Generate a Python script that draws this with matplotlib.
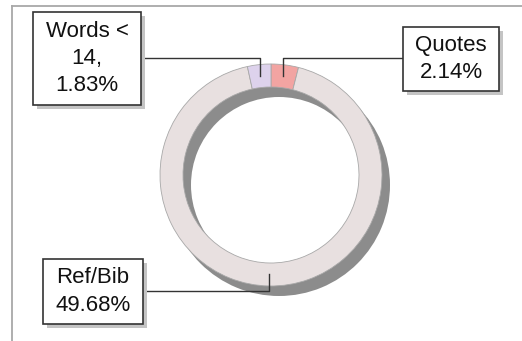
import numpy as np
import matplotlib
matplotlib.use("Agg")
import matplotlib.pyplot as plt

plt.rcParams['font.family'] = ['Liberation Sans', 'DejaVu Sans']

# slice data (clockwise from the top)
labels = ["Quotes", "Ref/Bib", "Words < 14"]
values = [2.14, 49.68, 1.83]
colors = ["#f2a4a2", "#e8e0e0", "#ddd2ec"]

# label box text
box_text = ["Quotes\n2.14%", "Ref/Bib\n49.68%", "Words <\n14,\n1.83%"]

W, H = 522, 341
fig = plt.figure(figsize=(W / 100, H / 100), dpi=100)
ax = fig.add_axes([0, 0, 1, 1])

cx, cy = 271, 166
r_out = 111
width = 23

# shadow ring
ax.pie([1], colors=["#8c8c8c"], radius=r_out, center=(cx + 8, cy - 10),
       startangle=90, wedgeprops=dict(width=width, linewidth=0), frame=True)
wedges, _ = ax.pie(values, colors=colors, radius=r_out, center=(cx, cy),
                   startangle=90, counterclock=False,
                   wedgeprops=dict(width=width, edgecolor="#a8a8a8", linewidth=0.6),
                   frame=True)
ax.set_xlim(0, W)
ax.set_ylim(0, H)
ax.set_aspect('equal')
ax.axis('off')

# frame lines
ax.plot([12, W], [H - 6, H - 6], color="#a8a8a8", lw=1.3)
ax.plot([12, 12], [0, H - 6], color="#a8a8a8", lw=1.3)

# label boxes: (x0, y0, x1, y1) in pixels from top-left, which side the leader leaves, leader y
boxes = [(403, 27, 499, 91, 'left', 58),
         (43, 259, 143, 324, 'right', 291),
         (33, 12, 141, 105, 'right', 58)]
r_mid = r_out - width / 2
for w, txt, (x0, y0, x1, y1, side, ly) in zip(wedges, box_text, boxes):
    ang = np.deg2rad((w.theta1 + w.theta2) / 2)
    px = cx + r_mid * np.cos(ang)
    py = cy + r_mid * np.sin(ang)
    bx0, by0 = x0, H - y1
    bw, bh = x1 - x0, y1 - y0
    ax.add_patch(plt.Rectangle((bx0 + 4, by0 - 4), bw, bh, fc="#c4c4c4", ec="none", zorder=3))
    ax.add_patch(plt.Rectangle((bx0, by0), bw, bh, fc="white", ec="#333333", lw=1.2, zorder=4))
    ax.text(bx0 + bw / 2, by0 + bh / 2, txt, ha='center', va='center', fontsize=16,
            color="#111111", linespacing=1.4, zorder=5)
    x_edge = x0 if side == 'left' else x1
    ax.plot([x_edge, px, px], [H - ly, H - ly, py], color="#333333", lw=1.0, zorder=2)

fig.savefig("out.png", dpi=100)
